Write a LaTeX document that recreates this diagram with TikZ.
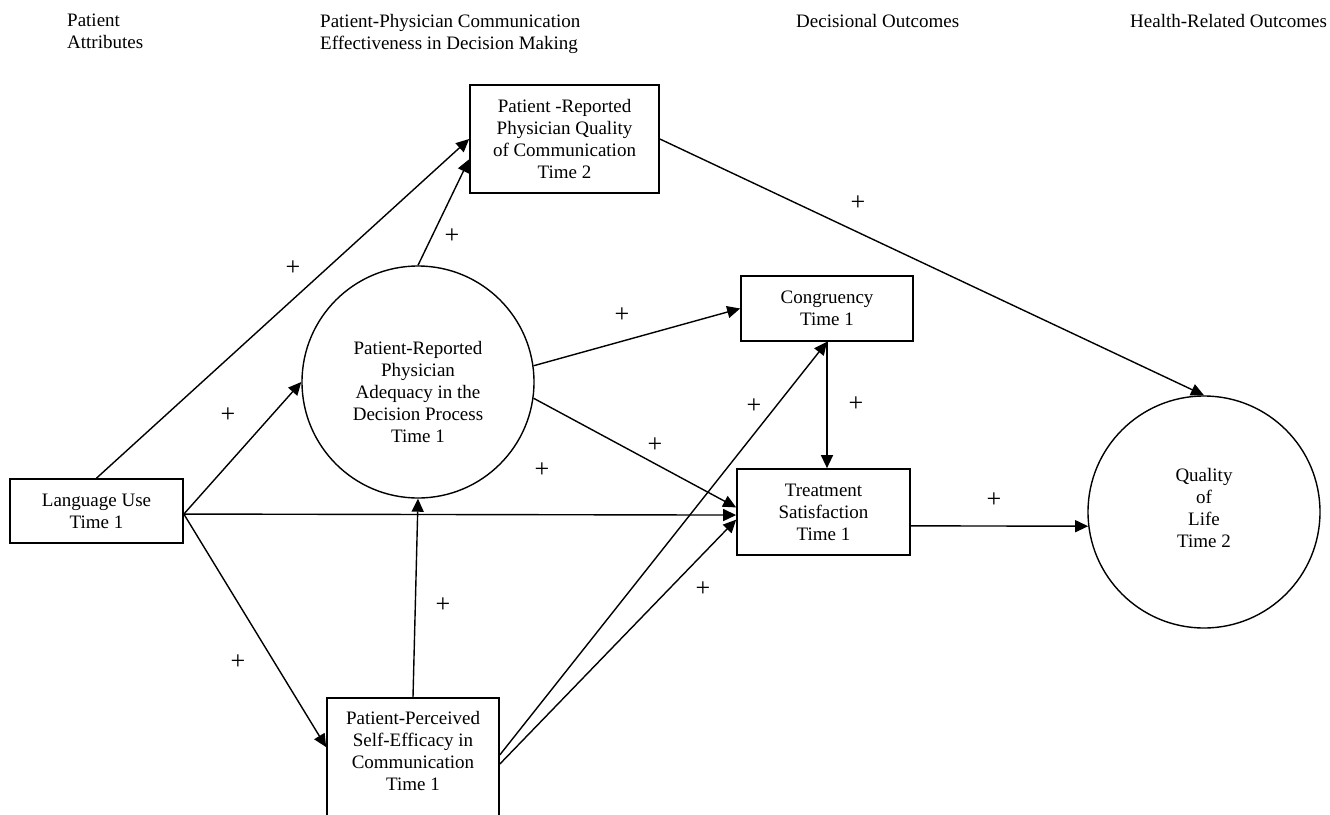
\documentclass[tikz,border=0pt]{standalone}
\usepackage{fontspec}
\setmainfont{Liberation Serif}
\usetikzlibrary{arrows.meta}
\begin{document}
\begin{tikzpicture}[x=1pt,y=-1pt,
  box/.style={draw, line width=1.7pt, rectangle, align=center, inner sep=0pt, font=\fontsize{19}{22}\selectfont},
  circ/.style={draw, line width=1.4pt, circle, minimum size=232pt, inner sep=0pt, align=center, font=\fontsize{19}{22}\selectfont},
  txt/.style={align=center, inner sep=0pt, font=\fontsize{19}{22}\selectfont},
  hdr/.style={align=left, inner sep=0pt, font=\fontsize{19}{22}\selectfont},
  conn/.style={line width=1.4pt, -{Triangle[length=13pt,width=12pt]}},
  plus/.style={inner sep=0pt, font=\fontsize{26}{26}\selectfont}]
\useasboundingbox (0,0) rectangle (1330,814);

% headers
\node[hdr, anchor=north west] (h1) at (67,14) {Patient\\Attributes};
\node[hdr, anchor=north west] (h2) at (320,14) {Patient-Physician Communication\\Effectiveness in Decision Making};
\node[hdr, anchor=north west] (h3) at (796,14) {Decisional Outcomes};
\node[hdr, anchor=north west] (h4) at (1130,14) {Health-Related Outcomes};

% nodes
\node[box, minimum width=189pt, minimum height=108pt] (prq) at (564.5,139) {Patient -Reported\\Physician Quality\\of Communication\\Time 2};
\node[box, minimum width=172pt, minimum height=65pt] (cong) at (827,308.5) {Congruency\\Time 1};
\node[box, minimum width=173pt, minimum height=86pt] (treat) at (823.5,512) {Treatment\\Satisfaction\\Time 1};
\node[box, minimum width=173pt, minimum height=64pt] (lang) at (96.5,511) {Language Use\\Time 1};
\node[box, minimum width=172pt, minimum height=132pt] (selfeff) at (413,764) {};
\node[txt, anchor=north] (selfefftext) at (413,711) {Patient-Perceived\\Self-Efficacy in\\Communication\\Time 1};
\node[circ] (adeq) at (418,382) {};
\node[txt] (adeqtext) at (418,392) {Patient-Reported\\Physician\\Adequacy in the\\Decision Process\\Time 1};
\node[circ] (qol) at (1204,512) {};
\node[txt] (qoltext) at (1204,508) {Quality\\of\\Life\\Time 2};

% connectors
\draw[conn] (lang.north) -- (prq.west);
\draw[conn] (adeq.north) -- (prq.192.5);
\draw[conn] (prq.east) -- (qol.north);
\draw[conn] (adeq.8) -- (cong.west);
\draw[conn] (adeq.-8) -- (treat.177);
\draw[conn] (lang.-2.6) -- (adeq.west);
\draw[conn] (lang.-2.6) -- (treat.182);
\draw[conn] (lang.-2.6) -- (selfeff.169.5);
\draw[conn] (selfeff.north) -- (adeq.south);
\draw[conn] (selfeff.6) -- (cong.south);
\draw[conn] (selfeff.east) -- (treat.185);
\draw[conn] (cong.south) -- (cong.south |- treat.north);
\draw[conn] (treat.-9.2) -- (qol.187);

% plus signs
\node[plus] (p1) at (293,268) {+};
\node[plus] (p2) at (452,236) {+};
\node[plus] (p3) at (858,203) {+};
\node[plus] (p4) at (622,315) {+};
\node[plus] (p5) at (228,415) {+};
\node[plus] (p6) at (754,406) {+};
\node[plus] (p7) at (856,404) {+};
\node[plus] (p8) at (655,445) {+};
\node[plus] (p9) at (542,470) {+};
\node[plus] (p10) at (994,500) {+};
\node[plus] (p11) at (443,605) {+};
\node[plus] (p12) at (703,589) {+};
\node[plus] (p13) at (238,662) {+};
\end{tikzpicture}
\end{document}
